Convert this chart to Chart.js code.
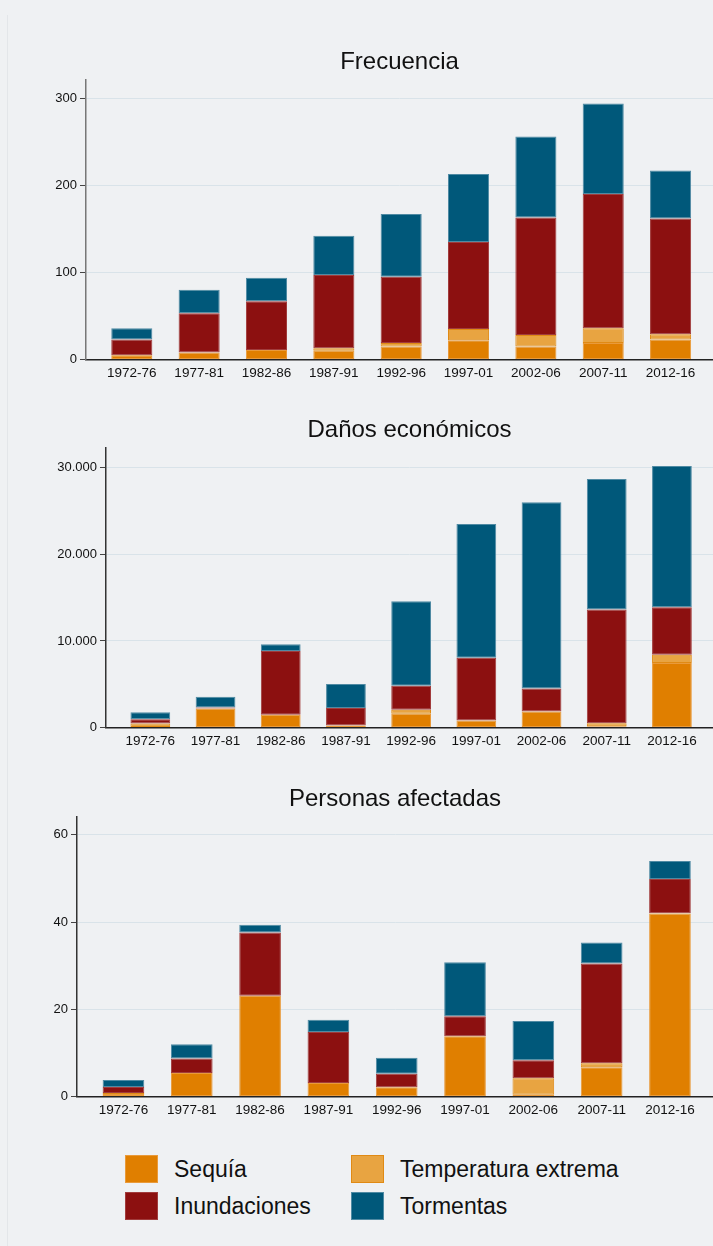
<!DOCTYPE html>
<html>
<head>
<meta charset="utf-8">
<script src="https://cdn.jsdelivr.net/npm/chart.js@4"></script>
<style>
  html, body { margin: 0; padding: 0; background: #eff1f3; }
  body { width: 713px; height: 1246px; position: relative; overflow: hidden; font-family: 'Liberation Sans', Arial, sans-serif; }
  .frame { position: absolute; left: 7px; top: 15px; bottom: 0; border-left: 1px solid #e3e6e9; }
  .box { position: absolute; left: 0; width: 713px; height: 346px; }
  .legend { position: absolute; left: 0; top: 1155px; width: 713px; }
  .item { position: absolute; height: 28px; display: flex; align-items: center; font-size: 23px; color: #111; }
  .swatch { width: 33px; height: 28px; margin-right: 16px; box-sizing: border-box; border: 1px solid; }
</style>
</head>
<body>
<div class="frame"></div>
<div class="box" style="top:40px"><canvas id="chart-freq"></canvas></div>
<div class="box" style="top:408px"><canvas id="chart-danos"></canvas></div>
<div class="box" style="top:777px"><canvas id="chart-personas"></canvas></div>
<div class="legend" id="legend"></div>

<script>
// Periods on the x axis
const periods = ['1972-76', '1977-81', '1982-86', '1987-91', '1992-96', '1997-01', '2002-06', '2007-11', '2012-16'];

const seriesNames = ['Sequía', 'Temperatura extrema', 'Inundaciones', 'Tormentas'];
const seriesColors = ['#e07f00', '#e8a441', '#8c1010', '#00587a'];
const seriesBorders = ['#e99a3a', '#e08a14', '#a13c3c', '#4f8aa3'];

// Frecuencia (number of events)
const freqSequia = [4, 8, 11, 10, 15, 22, 15, 19, 23];
const freqTemp = [1, 0, 0, 3, 4, 13, 13, 17, 6];
const freqInund = [18, 45, 56, 84, 76, 100, 135, 154, 133];
const freqTorm = [13, 27, 27, 45, 72, 78, 93, 104, 55];

// Daños económicos
const danosSequia = [50, 2200, 1470, 230, 1580, 810, 1850, 150, 7450];
const danosTemp = [400, 0, 0, 0, 460, 0, 0, 350, 970];
const danosInund = [510, 120, 7370, 2010, 2790, 7260, 2660, 13130, 5480];
const danosTorm = [810, 1230, 770, 2780, 9770, 15440, 21510, 15100, 16330];

// Personas afectadas
const persSequia = [0.6, 5.4, 23.1, 3.1, 2.1, 13.8, 0.4, 6.7, 41.9];
const persTemp = [0.2, 0, 0, 0, 0, 0, 3.8, 0.9, 0.1];
const persInund = [1.4, 3.3, 14.5, 11.7, 3.1, 4.6, 4.1, 22.9, 7.9];
const persTorm = [1.6, 3.3, 1.8, 2.8, 3.7, 12.4, 9.0, 4.8, 4.1];

const FONT = "'Liberation Sans', Arial, sans-serif";

function thousands(v) {
  return String(v).replace(/\B(?=(\d{3})+(?!\d))/g, '.');
}

function makeChart(id, title, series, yMax, yStep, axisLeft, axisColor) {
  const datasets = series.map((vals, k) => ({
    label: seriesNames[k],
    data: vals.map((v, i) => ({ x: i, y: v })),
    backgroundColor: seriesColors[k],
    borderColor: seriesBorders[k],
    borderWidth: 1,
    borderSkipped: false,
    categoryPercentage: 1,
    barPercentage: 0.61,
  }));

  return new Chart(document.getElementById(id), {
    type: 'bar',
    data: { datasets },
    options: {
      responsive: true,
      maintainAspectRatio: false,
      animation: false,
      layout: { padding: { left: 0, right: 0, top: 0, bottom: 6 } },
      plugins: {
        legend: { display: false },
        tooltip: { enabled: false },
        title: {
          display: true,
          text: title,
          fullSize: false,
          color: '#111',
          font: { family: FONT, size: 24, weight: 'normal' },
          padding: { top: 7.6, bottom: 3.6 },
        },
      },
      scales: {
        x: {
          type: 'linear',
          stacked: true,
          offset: false,
          bounds: 'data',
          min: -0.68,
          max: 8.63,
          afterBuildTicks: (s) => { s.ticks = periods.map((_, i) => ({ value: i })); },
          afterFit: (s) => { s.height = 20.5; },
          grid: { display: false, drawTicks: false },
          border: { color: '#222', width: 1.5 },
          ticks: {
            autoSkip: false,
            maxRotation: 0,
            padding: 6,
            color: '#111',
            font: { family: FONT, size: 13.5 },
            callback: (v) => periods[v] ?? '',
          },
        },
        y: {
          stacked: true,
          min: 0,
          max: yMax,
          afterFit: (s) => { s.width = axisLeft; },
          afterBuildTicks: (s) => {
            const t = [];
            for (let v = 0; v <= yMax; v += yStep) t.push({ value: v });
            s.ticks = t;
          },
          grid: { color: '#d9e3e9', lineWidth: 1, tickColor: '#444', tickLength: 6 },
          border: { color: axisColor, width: 1.5 },
          ticks: {
            padding: 3,
            color: '#111',
            font: { family: FONT, size: 13 },
            callback: (v) => thousands(v),
          },
        },
      },
    },
  });
}

makeChart('chart-freq', 'Frecuencia', [freqSequia, freqTemp, freqInund, freqTorm], 321, 100, 86, '#777');
makeChart('chart-danos', 'Daños económicos', [danosSequia, danosTemp, danosInund, danosTorm], 32300, 10000, 106, '#333');
makeChart('chart-personas', 'Personas afectadas', [persSequia, persTemp, persInund, persTorm], 64.1, 20, 77, '#333');

// Legend: two columns, two rows
const legendPos = [[125, 0], [351, 0], [125, 37], [351, 37]];
const legendOrder = [0, 1, 2, 3];
document.getElementById('legend').innerHTML = legendOrder
  .map((k, j) => `
    <div class="item" style="left:${legendPos[j][0]}px;top:${legendPos[j][1]}px">
      <span class="swatch" style="background:${seriesColors[k]};border-color:${seriesBorders[k]}"></span>${seriesNames[k]}
    </div>`)
  .join('');
</script>
</body>
</html>
